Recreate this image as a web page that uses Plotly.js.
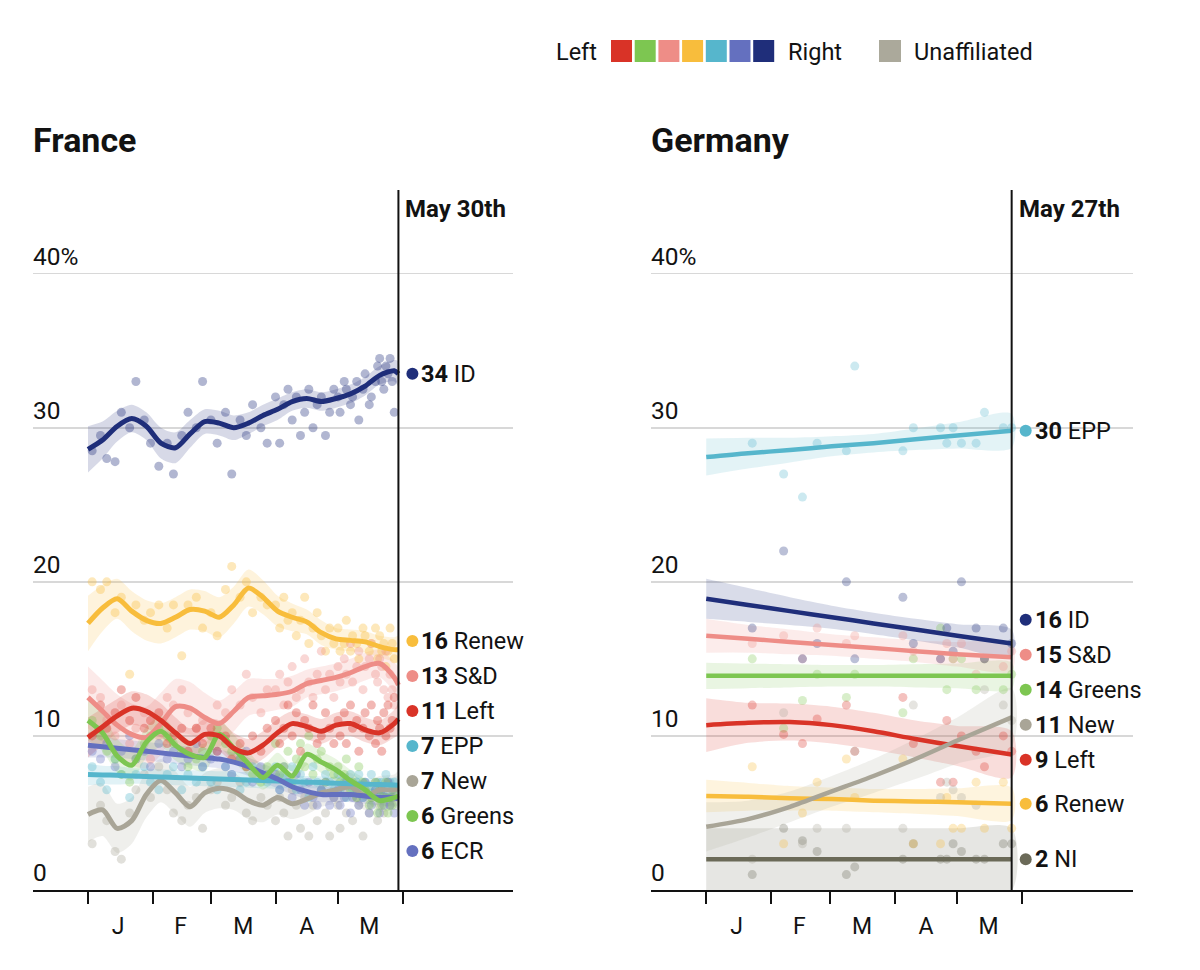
<!DOCTYPE html>
<html><head><meta charset="utf-8">
<script src="https://cdn.plot.ly/plotly-3.0.1.min.js"></script>
<style>html,body{margin:0;padding:0;background:#fff}#chart{width:1200px;height:970px}</style>
</head><body><div id="chart"></div>
<script>
// ---------- DATA (days counted from 2019-01-01) ----------
const monthLabels = ['J','F','M','A','M'];
const monthStartDays = [0, 31, 59, 90, 120, 151];
const monthMidDays = [14.5, 44.5, 74.5, 105, 135];
const yTickVals = [0, 10, 20, 30, 40];
const yTickText = ['0', '10', '20', '30', '40%'];

// France polls
const frCutoffDay = 149;            // May 30th
const frCutoffLabel = 'May 30th';
const frPollDays = [2,6,9,13,16,20,23,27,30, 34,38,41,45,48,52,55, 59,62,66,69,73,76,79,83,86,
  90,92,94,96,98,100,102,104,106,108,110,112,114,116,118,
  120,121,123,124,126,127,129,130,132,133,135,136,138,139,140,141,142,143,144,145,146,147];
const frPollID = [28.5,29.5,28.0,27.8,31.0,30.0,33.0,30.5,29.0, 27.5,29.0,27.0,29.5,31.0,30.0,33.0,
  30.5,29.0,31.0,27.0,30.5,29.5,31.5,30.0,29.0,
  32.0,29.0,31.5,32.5,30.5,32.0,29.5,31.0,32.5,30.0,31.5,32.0,29.5,31.0,32.5,
  32.0,31.0,33.0,32.5,31.5,32.0,33.0,30.5,32.5,33.5,31.5,32.0,33.0,34.0,34.5,33.0,32.5,34.0,33.5,34.5,33.0,31.0];
const frPollRenew = [20.0,19.5,20.0,18.0,19.0,14.0,18.5,17.5,18.0, 18.5,17.0,18.5,15.2,18.5,19.0,17.0,
  18.0,16.5,19.5,21.0,19.0,20.0,18.0,19.0,18.5,
  18.5,17.0,19.0,17.5,18.0,16.5,17.5,19.0,16.0,17.0,18.0,16.5,15.5,17.0,16.0,
  17.0,15.5,16.0,17.5,15.5,16.5,16.0,15.0,17.0,16.5,15.5,16.0,17.0,15.0,16.5,15.5,16.0,14.5,15.5,17.0,16.0,15.0];
const frPollSD = [13.0,12.5,11.0,10.0,12.0,9.5,10.5,11.5,8.5, 10.0,12.5,12.0,13.0,11.5,10.5,11.0,
  10.0,12.0,11.5,13.0,12.0,14.0,12.5,11.5,13.0,
  13.0,14.0,12.0,13.5,14.5,12.5,13.0,15.0,13.5,12.5,14.0,15.5,13.0,14.0,12.5,
  14.5,13.5,15.0,14.0,16.0,13.5,14.5,15.5,13.0,14.5,15.0,16.0,14.0,13.5,15.0,14.5,13.0,15.5,12.5,14.0,13.0,12.0];
const frPollLeft = [10.0,12.0,10.5,11.5,13.0,11.0,12.5,10.5,11.0, 11.5,9.5,10.0,10.5,9.0,10.5,9.5,
  10.5,9.0,10.0,8.5,9.5,8.0,10.0,9.0,10.5,
  11.0,9.5,10.5,12.0,10.0,11.5,9.0,11.0,10.5,12.0,9.5,10.0,11.5,10.5,9.5,
  11.0,10.0,11.5,9.5,12.0,10.5,11.0,9.0,10.5,11.5,10.0,12.0,9.5,11.0,10.5,9.0,11.5,10.0,12.0,10.5,11.0,12.5];
const frPollEPP = [8.0,7.0,6.5,8.5,7.5,6.0,7.5,8.0,7.0, 6.5,7.5,8.0,6.5,7.5,7.0,8.0,
  7.0,6.5,8.0,7.5,6.5,7.0,8.0,7.5,7.0,
  8.0,6.5,7.5,7.0,8.0,6.5,7.5,7.0,6.0,8.0,7.0,6.5,7.5,7.0,6.5,
  7.5,6.5,7.0,6.0,7.5,6.5,7.0,7.5,6.0,7.0,6.5,7.5,6.5,7.0,6.0,7.0,6.5,7.5,6.0,7.0,6.5,7.0];
const frPollNew = [3.0,5.5,4.5,2.5,2.0,5.0,6.5,7.5,6.0, 8.0,6.5,5.0,4.5,5.5,6.0,4.0,
  6.5,7.0,5.5,6.0,7.0,5.0,4.5,6.0,5.5,
  4.5,6.0,5.0,3.5,6.5,5.5,4.0,6.0,3.5,5.5,4.5,6.5,5.0,3.5,6.0,
  5.5,4.0,6.5,5.0,7.0,4.5,6.0,5.5,3.5,6.5,5.0,6.0,7.0,4.5,5.5,6.5,5.0,6.0,7.0,5.5,6.5,6.0];
const frPollGreens = [11.0,10.0,9.0,8.5,7.5,7.0,8.5,9.5,10.0, 10.5,10.0,9.5,9.0,8.0,8.5,9.0,
  10.0,10.5,9.5,9.0,8.5,8.0,7.5,7.0,8.0,
  9.5,7.5,8.0,9.0,7.0,8.5,9.5,8.0,10.0,7.5,8.5,9.0,7.0,8.0,7.5,
  8.0,7.0,7.5,8.5,6.5,7.0,6.0,8.0,7.0,6.5,5.5,6.0,7.0,5.0,6.5,5.5,6.0,7.0,5.0,6.0,5.5,6.5];
const frPollECR = [9.0,8.5,9.5,8.0,9.0,10.0,8.5,9.0,8.0, 9.5,8.5,9.0,8.0,8.5,9.5,8.0,
  8.5,9.0,8.0,7.5,8.5,9.0,7.0,8.0,7.5,
  7.5,6.5,8.0,7.0,6.0,7.5,6.5,5.5,7.0,6.0,5.5,6.5,7.0,5.5,6.0,
  6.5,5.5,6.0,7.0,5.0,6.0,6.5,5.5,6.0,7.0,5.0,5.5,6.5,6.0,5.0,6.5,5.5,6.0,7.0,5.5,6.0,5.0];

// France trends (smoothed) and half-width of the uncertainty band
const frTrendDays = [0,7,14,21,28,35,42,49,56,63,70,77,84,91,98,105,112,119,126,133,140,147,149];
const frTrendID = [28.6,29.2,30.1,30.6,30.1,29.0,28.7,29.6,30.4,30.3,30.0,30.3,30.8,31.2,31.7,31.9,31.7,31.9,32.2,32.7,33.4,33.7,33.5];
const frTrendRenew = [17.3,18.3,18.9,18.1,17.5,17.3,17.7,18.2,18.1,17.7,18.5,19.6,19.0,18.1,17.7,17.4,16.7,16.3,16.2,16.1,15.8,15.6,15.6];
const frTrendSD = [12.5,11.6,10.7,10.1,9.9,10.8,11.9,11.8,11.2,10.8,11.6,12.5,12.6,12.7,12.9,13.4,13.6,13.8,14.1,14.5,14.7,13.8,13.3];
const frTrendLeft = [9.9,10.6,11.3,11.8,11.6,11.0,10.2,9.5,10.1,10.0,9.2,8.9,9.4,10.2,10.8,10.6,10.3,10.7,10.8,10.4,10.2,10.8,11.1];
const frTrendEPP = [7.50,7.47,7.44,7.40,7.37,7.34,7.30,7.27,7.24,7.20,7.17,7.14,7.10,7.07,7.03,7.00,6.97,6.93,6.90,6.87,6.84,6.81,6.80];
const frTrendNew = [4.9,5.2,4.0,4.5,6.2,7.1,6.3,5.4,6.3,6.6,6.4,5.8,5.5,6.0,5.6,5.9,6.3,6.5,6.7,6.1,6.5,6.5,6.6];
const frTrendGreens = [11.0,10.2,8.7,8.1,9.6,10.3,9.4,8.8,8.6,10.1,9.2,8.2,7.3,8.1,7.4,8.8,8.3,7.8,7.1,6.5,5.8,6.0,6.1];
const frTrendECR = [9.4,9.3,9.2,9.1,9.0,8.9,8.8,8.7,8.6,8.5,8.3,8.0,7.6,7.2,6.7,6.4,6.2,6.2,6.2,6.1,6.0,6.0,5.9];
const frBandID = [1.5,1.2,1.0,0.9,0.9,1.0,1.0,0.9,0.8,0.8,0.8,0.7,0.7,0.7,0.6,0.6,0.6,0.6,0.6,0.6,0.6,0.7,0.8];
const frBandRenew = [1.8,1.5,1.3,1.3,1.3,1.3,1.3,1.3,1.3,1.3,1.2,1.2,1.1,1.0,0.9,0.8,0.8,0.7,0.7,0.7,0.7,0.8,0.9];
const frBandSD = [2.0,2.0,2.0,2.0,2.0,2.0,1.8,1.7,1.6,1.5,1.3,1.2,1.1,1.0,1.0,0.9,0.9,0.9,0.9,0.9,0.9,1.0,1.1];
const frBandLeft = [1.3,1.2,1.1,1.1,1.1,1.1,1.0,1.0,1.0,1.0,1.0,0.9,0.9,0.9,0.8,0.8,0.8,0.8,0.8,0.8,0.8,0.9,1.0];
const frBandEPP = [0.7,0.6,0.6,0.5,0.5,0.5,0.5,0.5,0.5,0.5,0.5,0.5,0.5,0.5,0.4,0.4,0.4,0.4,0.4,0.4,0.4,0.5,0.6];
const frBandNew = [1.8,1.7,1.6,1.5,1.5,1.4,1.4,1.3,1.3,1.3,1.2,1.2,1.1,1.1,1.0,1.0,0.9,0.9,0.9,0.9,0.9,1.0,1.1];
const frBandGreens = [1.3,1.2,1.1,1.0,1.0,1.0,1.0,0.9,0.9,0.9,0.9,0.8,0.8,0.8,0.7,0.7,0.7,0.7,0.7,0.7,0.7,0.8,0.9];
const frBandECR = [0.8,0.7,0.6,0.6,0.6,0.6,0.6,0.6,0.6,0.6,0.6,0.6,0.6,0.6,0.5,0.5,0.5,0.5,0.5,0.5,0.5,0.6,0.7];

// Germany polls
const deCutoffDay = 146;            // May 27th
const deCutoffLabel = 'May 27th';
const dePollDays = [22,37,46,53,67,71,94,99,112,115,118,122,129,133,142,146];
const dePollEPP = [29.0,27.0,25.5,29.0,28.5,34.0,28.5,30.0,30.0,29.0,30.0,29.0,29.0,31.0,30.0,30.0];
const dePollID = [17.0,22.0,15.0,16.0,20.0,15.0,19.0,16.0,15.0,17.0,15.5,20.0,17.0,15.0,17.0,16.0];
const dePollSD = [16.0,16.5,15.0,17.0,16.0,16.5,16.5,15.5,15.0,16.0,15.0,16.0,14.0,15.0,14.5,15.5];
const dePollGreens = [15.0,10.5,12.3,14.0,12.5,14.0,11.5,15.0,17.0,13.0,15.0,15.0,13.0,15.0,13.0,14.0];
const dePollNew = [2.0,11.5,3.0,4.0,4.0,9.0,4.0,12.0,6.0,7.0,6.5,6.0,5.5,13.0,12.0,11.0];
const dePollLeft = [12.0,10.1,9.5,11.1,12.0,9.0,12.5,9.5,7.0,11.0,7.0,10.0,9.0,8.0,10.0,9.0];
const dePollRenew = [8.0,3.0,5.0,7.0,8.5,6.0,8.5,3.0,3.0,6.0,4.0,4.0,7.0,4.0,7.0,4.0];
const dePollNI = [1.0,4.0,3.2,2.5,1.0,1.5,2.0,3.0,2.0,2.0,3.0,2.5,2.0,2.0,3.0,3.0];

const deTrendDays = [0,20,40,60,80,100,120,146];
const deTrendEPP = [28.1,28.35,28.55,28.8,29.0,29.25,29.5,29.8];
const deTrendID = [18.9,18.5,18.1,17.7,17.3,16.9,16.5,16.0];
const deTrendSD = [16.5,16.3,16.1,15.9,15.7,15.5,15.3,15.1];
const deTrendGreens = [13.9,13.9,13.9,13.9,13.9,13.9,13.9,13.9];
const deTrendNew = [4.1,4.6,5.4,6.4,7.4,8.5,9.7,11.2];
const deTrendLeft = [10.7,10.85,10.9,10.7,10.3,9.8,9.35,8.8];
const deTrendRenew = [6.1,6.05,5.95,5.9,5.8,5.75,5.7,5.6];
const deTrendNI = [2.0,2.0,2.0,2.0,2.0,2.0,2.0,2.0];
const deBandEPP = [1.2,1.0,0.8,0.65,0.6,0.7,0.85,1.1];
const deBandID = [1.3,1.1,0.9,0.75,0.7,0.7,0.75,0.9];
const deBandSD = [1.1,0.9,0.8,0.7,0.7,0.7,0.8,0.9];
const deBandGreens = [0.85,0.8,0.75,0.7,0.7,0.75,0.8,0.85];
const deBandNew = [1.6,1.2,1.0,1.0,1.1,1.3,1.5,1.9];
const deBandLeft = [1.75,1.3,1.2,1.2,1.2,1.2,1.3,1.5];
const deBandRenew = [1.05,0.9,0.8,0.75,0.75,0.8,0.9,1.05];
const deBandNI = [2.0,2.0,2.0,2.0,2.0,2.0,2.0,2.0];

const legendGroups = ['Left','Greens','S&D','Renew','EPP','ECR','ID'];

// ---------- STYLE ----------
const FONT = 'Roboto, "Liberation Sans", Arial, sans-serif';
const INK = '#121212';
const colors = {Left:'#d93327', Greens:'#7dc651', 'S&D':'#ee8d87', Renew:'#f8bd3c', EPP:'#56b6cc',
  ECR:'#6470bf', ID:'#1f2e7a', New:'#a9a597', NI:'#6b6a58'};
const unaffiliatedColor = '#aba99b';
const W = 1200, H = 970, TOP = 192, BOTTOM = 890;
const Y_MAX = 45.3;
const PX_PER_UNIT = (BOTTOM - TOP) / Y_MAX;
const BASE = Date.UTC(2019, 0, 1), DAY = 86400000;
const dstr = d => new Date(BASE + d * DAY).toISOString().slice(0, 19).replace('T', ' ');
function rgba(hex, a) {
  const n = parseInt(hex.slice(1), 16);
  return `rgba(${(n >> 16) & 255},${(n >> 8) & 255},${n & 255},${a})`;
}
const py = p => (BOTTOM - p) / (BOTTOM - TOP);   // pixel y -> paper y

const countries = [
  {name:'France', xa:'x', ya:'y', dom:[33/W, 513/W], cutoff:frCutoffDay, cutoffLabel:frCutoffLabel,
   pollDays:frPollDays, trendDays:frTrendDays, lw:5, mop:0.35, bandA:0.18,
   parties:[
     ['Renew',frPollRenew,frTrendRenew,frBandRenew], ['S&D',frPollSD,frTrendSD,frBandSD],
     ['New',frPollNew,frTrendNew,frBandNew], ['EPP',frPollEPP,frTrendEPP,frBandEPP],
     ['ECR',frPollECR,frTrendECR,frBandECR], ['Greens',frPollGreens,frTrendGreens,frBandGreens],
     ['Left',frPollLeft,frTrendLeft,frBandLeft], ['ID',frPollID,frTrendID,frBandID]]},
  {name:'Germany', xa:'x2', ya:'y2', dom:[651/W, 1133/W], cutoff:deCutoffDay, cutoffLabel:deCutoffLabel,
   pollDays:dePollDays, trendDays:deTrendDays, lw:4.5, mop:0.3, bandA:0.17,
   parties:[
     ['NI',dePollNI,deTrendNI,deBandNI], ['Renew',dePollRenew,deTrendRenew,deBandRenew],
     ['Greens',dePollGreens,deTrendGreens,deBandGreens], ['S&D',dePollSD,deTrendSD,deBandSD],
     ['ID',dePollID,deTrendID,deBandID], ['Left',dePollLeft,deTrendLeft,deBandLeft],
     ['New',dePollNew,deTrendNew,deBandNew], ['EPP',dePollEPP,deTrendEPP,deBandEPP]]}
];

function dodge(vals, gap) {
  const items = vals.map((v, i) => ({i, v})).sort((a, b) => b.v - a.v);
  let groups = items.map(it => ({m:[it]}));
  const center = g => g.m.reduce((s, it) => s + it.v, 0) / g.m.length;
  const top = g => center(g) + (g.m.length - 1) / 2 * gap;
  const bottom = g => center(g) - (g.m.length - 1) / 2 * gap;
  let merged = true;
  while (merged) {
    merged = false;
    for (let j = 0; j < groups.length - 1; j++) {
      if (bottom(groups[j]) - top(groups[j + 1]) < gap - 1e-9) {
        groups.splice(j, 2, {m: groups[j].m.concat(groups[j + 1].m)});
        merged = true; break;
      }
    }
  }
  const out = new Array(vals.length);
  groups.forEach(g => { const t = top(g); g.m.forEach((it, k) => { out[it.i] = t - k * gap; }); });
  return out;
}

const traces = [], shapes = [], annotations = [];
const layout = {
  width: W, height: H, margin: {l:0, r:0, t:TOP, b:H - BOTTOM, pad:0},
  paper_bgcolor:'#fff', plot_bgcolor:'#fff', showlegend:false, hovermode:false,
  font:{family:FONT, color:INK}
};

countries.forEach(c => {
  const xs = c.trendDays.map(dstr);
  // bands
  c.parties.forEach(([p, , tr, bd]) => {
    const up = tr.map((v, i) => v + bd[i]), lo = tr.map((v, i) => v - bd[i]);
    traces.push({x: xs.concat(xs.slice().reverse()), y: up.concat(lo.slice().reverse()),
      xaxis:c.xa, yaxis:c.ya, mode:'lines', fill:'toself', fillcolor: rgba(colors[p], c.bandA),
      line:{width:0, shape:'spline', smoothing:0.8}, hoverinfo:'skip'});
  });
  // poll points
  c.parties.forEach(([p, polls]) => {
    traces.push({x: c.pollDays.map(dstr), y: polls, xaxis:c.xa, yaxis:c.ya, mode:'markers',
      marker:{size:9, color:colors[p], opacity:c.mop}, hoverinfo:'skip'});
  });
  // trend lines
  c.parties.forEach(([p, , tr]) => {
    traces.push({x: xs, y: tr, xaxis:c.xa, yaxis:c.ya, mode:'lines',
      line:{color:colors[p], width:c.lw, shape:'spline', smoothing:0.8}, hoverinfo:'skip'});
  });
  // end labels
  const finals = c.parties.map(([, , tr]) => tr[tr.length - 1]);
  const ly = dodge(finals, 35 / PX_PER_UNIT);
  const dotX = dstr(c.cutoff + 14 / 2.086);
  traces.push({x: c.parties.map(() => dotX), y: ly, xaxis:c.xa, yaxis:c.ya, mode:'markers',
    marker:{size:12, color:c.parties.map(([p]) => colors[p])}, hoverinfo:'skip', cliponaxis:false});
  c.parties.forEach(([p], i) => {
    annotations.push({xref:c.xa, yref:c.ya, x:dotX, y:ly[i], xanchor:'left', yanchor:'middle',
      xshift:7, showarrow:false, text:`<b>${Math.round(finals[i])}</b> ${p}`,
      font:{size:23.5, color:INK, family:FONT}});
  });
  // axes
  const axKey = c.xa === 'x' ? 'xaxis' : 'xaxis2';
  const ayKey = c.ya === 'y' ? 'yaxis' : 'yaxis2';
  layout[axKey] = {
    type:'date', domain:c.dom, anchor:c.ya, range:[dstr(-26.4), dstr(204)],
    showline:true, linecolor:INK, linewidth:2, showgrid:false, zeroline:false,
    tickmode:'array', tickvals: monthMidDays.map(dstr), ticktext: monthLabels, ticks:'',
    ticklabelstandoff: 14, tickfont:{size:23, color:INK, family:FONT},
    minor:{tickmode:'array', tickvals: monthStartDays.map(dstr), ticks:'outside', ticklen:12,
      tickwidth:2, tickcolor:INK, showgrid:false},
    fixedrange:true
  };
  layout[ayKey] = {
    domain:[0, 1], anchor:c.xa, range:[0, Y_MAX], tickmode:'array', tickvals: yTickVals.slice(1),
    showticklabels:false, ticks:'', showgrid:true, gridcolor:'#d8d8d8', gridwidth:1.5,
    zeroline:false, showline:false, fixedrange:true
  };
  // y labels
  yTickVals.forEach((v, i) => {
    annotations.push({xref: c.xa + ' domain', yref:c.ya, x:0, y:v, xanchor:'left', yanchor:'bottom',
      xshift:-2, yshift:1, showarrow:false, text:yTickText[i], font:{size:24.5, color:INK, family:FONT}});
  });
  // cutoff line + label
  shapes.push({type:'line', xref:c.xa, yref: c.ya + ' domain', x0:dstr(c.cutoff), x1:dstr(c.cutoff),
    y0:0, y1:1.003, line:{color:INK, width:2}});
  annotations.push({xref:c.xa, yref: c.ya + ' domain', x:dstr(c.cutoff), y:1, xanchor:'left', yanchor:'top',
    xshift:5, yshift:-1, showarrow:false, text:`<b>${c.cutoffLabel}</b>`, font:{size:24, color:INK, family:FONT}});
  // title
  annotations.push({xref:'paper', yref:'paper', x:c.dom[0], y:1, xanchor:'left', yanchor:'bottom',
    xshift:-2, yshift:30, showarrow:false, text:`<b>${c.name}</b>`, font:{size:34, color:INK, family:FONT}});
});

// top colour key
annotations.push({xref:'paper', yref:'paper', x:599 / W, y:py(52), xanchor:'right', yanchor:'middle',
  showarrow:false, text:'Left', font:{size:23.5, color:INK, family:FONT}});
legendGroups.forEach((p, k) => {
  const x0 = 611 + k * 23.7;
  shapes.push({type:'rect', xref:'paper', yref:'paper', x0:x0 / W, x1:(x0 + 21) / W, y0:py(62), y1:py(40),
    fillcolor:colors[p], line:{width:0}});
});
annotations.push({xref:'paper', yref:'paper', x:786 / W, y:py(52), xanchor:'left', yanchor:'middle',
  showarrow:false, text:'Right', font:{size:23.5, color:INK, family:FONT}});
shapes.push({type:'rect', xref:'paper', yref:'paper', x0:879 / W, x1:901 / W, y0:py(62), y1:py(40),
  fillcolor:unaffiliatedColor, line:{width:0}});
annotations.push({xref:'paper', yref:'paper', x:912 / W, y:py(52), xanchor:'left', yanchor:'middle',
  showarrow:false, text:'Unaffiliated', font:{size:23.5, color:INK, family:FONT}});

layout.shapes = shapes;
layout.annotations = annotations;
Plotly.newPlot('chart', traces, layout, {displayModeBar:false, staticPlot:true});
</script>
</body></html>
